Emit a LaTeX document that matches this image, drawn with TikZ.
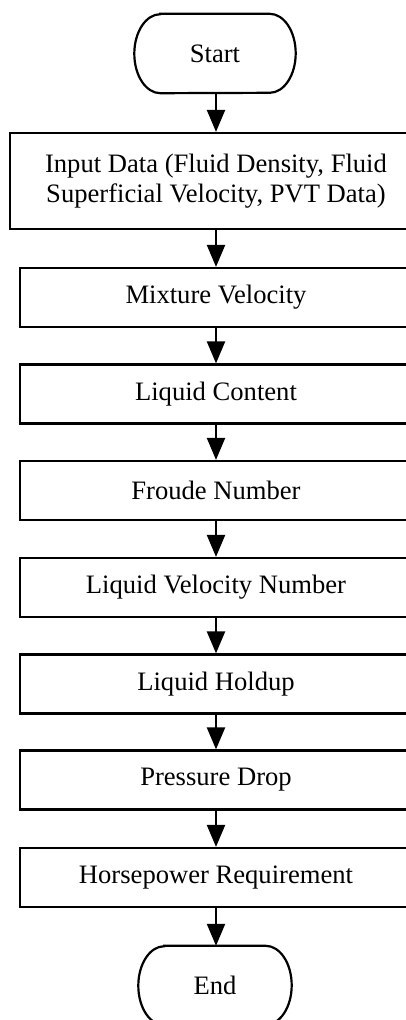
\documentclass[tikz,border=0pt]{standalone}
\usepackage{fontspec}
\setmainfont{Liberation Serif}
\usetikzlibrary{arrows.meta}
\begin{document}
\begin{tikzpicture}[x=1pt,y=-1pt,
  txt/.style={font=\fontsize{26.6}{30}\selectfont},
  box/.style={txt, draw, line width=2.2pt, rectangle, minimum width=392pt, minimum height=59pt, inner sep=0pt, align=center},
  term/.style={txt, rectangle, minimum height=79pt, inner sep=0pt},
  termline/.style={line width=2.2pt},
  flow/.style={line width=2.2pt, -{Triangle[length=22pt,width=18pt]}}]
\useasboundingbox (0,0) rectangle (406,1020);
\clip (0,0) rectangle (406,1020);
\node[term, minimum width=161pt] (start) at (215,53.5) {Start};
\draw[termline] ([xshift=26pt]start.north west) -- ([xshift=-26pt]start.north east)
  arc[start angle=90, end angle=-90, x radius=26pt, y radius=39.5pt]
  -- ([xshift=26pt]start.south west)
  arc[start angle=270, end angle=90, x radius=26pt, y radius=39.5pt] -- cycle;
\node[box, minimum width=412pt, minimum height=96pt] (input) at (216,181) {Input Data (Fluid Density, Fluid\\Superficial Velocity, PVT Data)};
\node[box] (mix) at (216,297.5) {Mixture Velocity};
\node[box] (lc) at (216,394) {Liquid Content};
\node[box] (fr) at (216,490.5) {Froude Number};
\node[box] (lvn) at (216,587.5) {Liquid Velocity Number};
\node[box] (lh) at (216,684) {Liquid Holdup};
\node[box] (pd) at (216,780) {Pressure Drop};
\node[box] (hp) at (216,877.5) {Horsepower Requirement};
\node[term, minimum width=153pt] (end) at (215,985.5) {End};
\draw[termline] ([xshift=26pt]end.north west) -- ([xshift=-26pt]end.north east)
  arc[start angle=90, end angle=-90, x radius=26pt, y radius=39.5pt]
  -- ([xshift=26pt]end.south west)
  arc[start angle=270, end angle=90, x radius=26pt, y radius=39.5pt] -- cycle;
\draw[flow] (start.south -| input) -- (input);
\draw[flow] (input) -- (mix);
\draw[flow] (mix) -- (lc);
\draw[flow] (lc) -- (fr);
\draw[flow] (fr) -- (lvn);
\draw[flow] (lvn) -- (lh);
\draw[flow] (lh) -- (pd);
\draw[flow] (pd) -- (hp);
\draw[flow] (hp) -- (end.north -| hp);
\end{tikzpicture}
\end{document}
